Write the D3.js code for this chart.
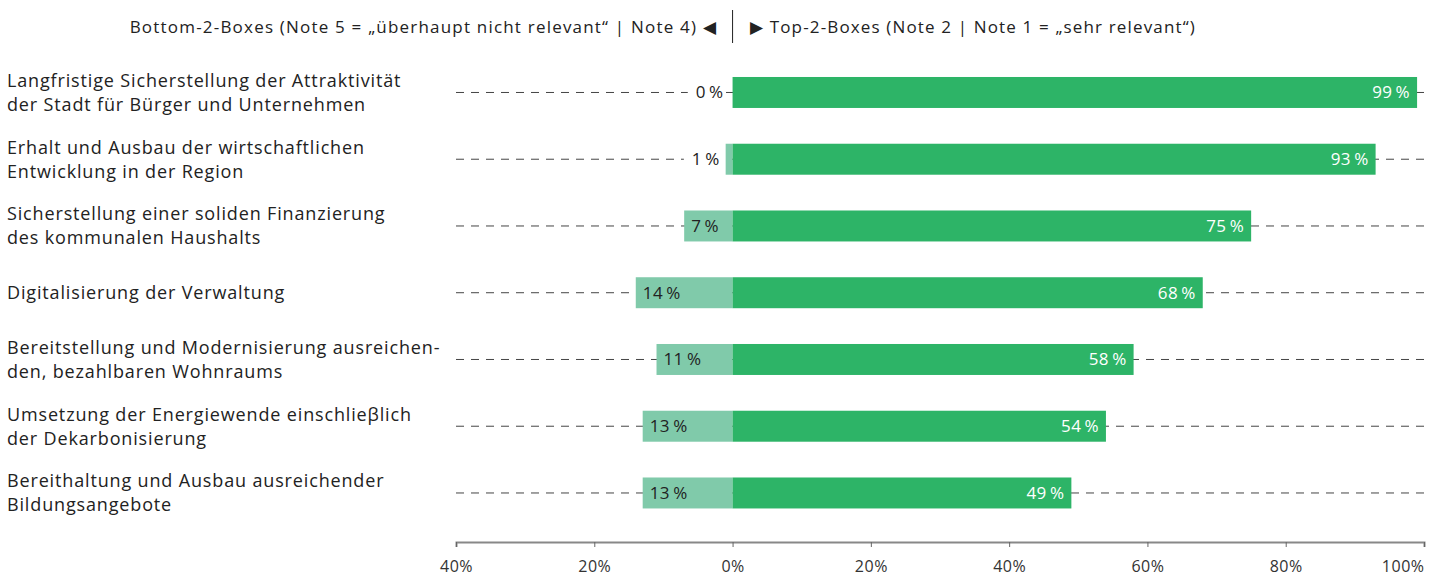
<!DOCTYPE html>
<html><head><meta charset="utf-8">
<script src="https://cdn.jsdelivr.net/npm/d3@7"></script>
<style>body{margin:0;background:#fff}svg{display:block}</style>
</head><body>
<svg id="chart" width="1440" height="579"></svg>
<script>
const categories = [
  ["Langfristige Sicherstellung der Attraktivität","der Stadt für Bürger und Unternehmen"],
  ["Erhalt und Ausbau der wirtschaftlichen","Entwicklung in der Region"],
  ["Sicherstellung einer soliden Finanzierung","des kommunalen Haushalts"],
  ["Digitalisierung der Verwaltung"],
  ["Bereitstellung und Modernisierung ausreichen-","den, bezahlbaren Wohnraums"],
  ["Umsetzung der Energiewende einschlieβlich","der Dekarbonisierung"],
  ["Bereithaltung und Ausbau ausreichender","Bildungsangebote"]
];
const bottom2 = [0, 1, 7, 14, 11, 13, 13];
const top2 = [99, 93, 75, 68, 58, 54, 49];
const tickValues = [-40, -20, 0, 20, 40, 60, 80, 100];
const legendLeft = "Bottom-2-Boxes (Note 5 = „überhaupt nicht relevant“ | Note 4) \u25C0";
const legendRight = "\u25B6 Top-2-Boxes (Note 2 | Note 1 = „sehr relevant“)";

const svg = d3.select("#chart");
const FONT = "'Open Sans', sans-serif";
const x = d3.scaleLinear().domain([-40, 100]).range([456, 1424]);
const idx = categories.map((d, i) => i);
const y = d3.scaleBand().domain(idx).range([59.1, 526.35]).paddingInner(0.536).paddingOuter(0.268);
const bw = y.bandwidth();
const cGreen = "#2db467", cLight = "#80caaa";

// legend
svg.append("text").attr("x", 717).attr("y", 33).attr("text-anchor", "end")
  .attr("font-family", FONT).attr("font-size", 17).attr("letter-spacing", 1.2).attr("fill", "#222").text(legendLeft);
svg.append("text").attr("x", 750).attr("y", 33)
  .attr("font-family", FONT).attr("font-size", 17).attr("letter-spacing", 1.15).attr("fill", "#222").text(legendRight);
svg.append("line").attr("x1", x(0)).attr("x2", x(0)).attr("y1", 10).attr("y2", 43)
  .attr("stroke", "#222").attr("stroke-width", 1);

// category labels
const labs = svg.append("g");
idx.forEach(i => {
  const lines = categories[i];
  const cy = y(i) + bw / 2;
  const t = labs.append("text").attr("font-family", FONT).attr("font-size", 18)
    .attr("letter-spacing", 0.85).attr("fill", "#222");
  lines.forEach((l, k) => {
    const off = (k - (lines.length - 1) / 2) * 24 + 6.5;
    t.append("tspan").attr("x", 7).attr("y", cy + off).text(l);
  });
});

// dashed guide lines
svg.append("g").selectAll("line").data(idx).join("line")
  .attr("x1", x(-40)).attr("x2", x(100))
  .attr("y1", i => y(i) + bw / 2).attr("y2", i => y(i) + bw / 2)
  .attr("stroke", "#444").attr("stroke-width", 1).attr("stroke-dasharray", "8,7");

// bars
svg.append("g").selectAll("rect").data(idx).join("rect")
  .attr("x", i => x(-bottom2[i])).attr("y", i => y(i))
  .attr("width", i => x(0) - x(-bottom2[i])).attr("height", bw).attr("fill", cLight);
svg.append("g").selectAll("rect").data(idx).join("rect")
  .attr("x", x(0)).attr("y", i => y(i))
  .attr("width", i => x(top2[i]) - x(0)).attr("height", bw).attr("fill", cGreen);

// value labels
const fmt = v => v + "\u2009%";
const vl = svg.append("g").attr("font-family", FONT).attr("font-size", 17).attr("letter-spacing", 0.4);
idx.forEach(i => {
  const cy = y(i) + bw / 2 + 6;
  vl.append("text").attr("x", x(top2[i]) - 7).attr("y", cy).attr("text-anchor", "end")
    .attr("fill", "#fff").text(fmt(top2[i]));
  const w = x(0) - x(-bottom2[i]);
  if (w > 40) {
    vl.append("text").attr("x", x(-bottom2[i]) + 7).attr("y", cy).attr("fill", "#222").text(fmt(bottom2[i]));
  } else {
    const tx = x(-bottom2[i]) - (bottom2[i] === 0 ? 9 : 6);
    const t = vl.append("text").attr("x", tx).attr("y", cy).attr("text-anchor", "end")
      .attr("fill", "#222").text(fmt(bottom2[i]));
    const bb = t.node().getBBox();
    vl.insert("rect", "text").attr("x", bb.x - 8).attr("y", bb.y).attr("width", bb.width + 8)
      .attr("height", bb.height).attr("fill", "#fff");
    t.raise();
  }
});

// axis
const axis = d3.axisBottom(x).tickValues(tickValues).tickSize(5).tickFormat(d => Math.abs(d) + "%");
const ag = svg.append("g").attr("transform", "translate(0,542)").call(axis);
ag.select(".domain").attr("stroke", "#888").attr("stroke-width", 2);
ag.selectAll(".tick line").attr("stroke", "#666");
ag.selectAll(".tick text").attr("font-family", FONT)
  .attr("font-size", 16).attr("letter-spacing", 0.5).attr("fill", "#333").attr("y", 30).attr("dy", 0)
  .attr("text-anchor", d => d === 100 ? "end" : "middle");
</script>
</body></html>
